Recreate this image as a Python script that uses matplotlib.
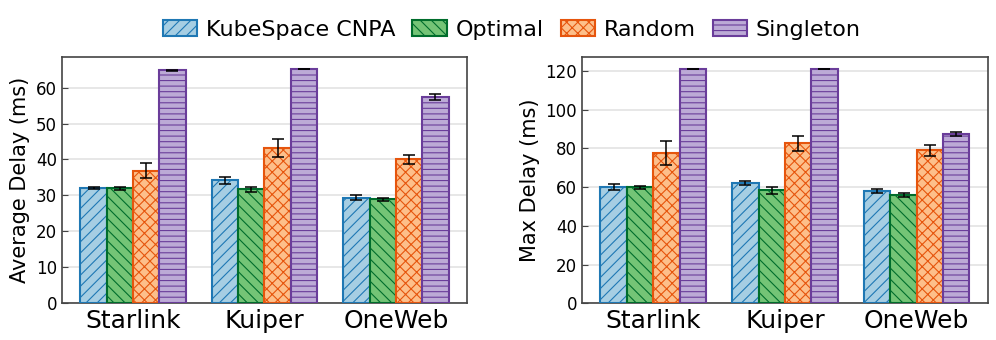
import numpy as np
import matplotlib.pyplot as plt
from matplotlib.patches import Patch

plt.rcParams['font.family'] = 'DejaVu Sans'
plt.rcParams['hatch.linewidth'] = 0.8

# constellations and methods
groups = ['Starlink', 'Kuiper', 'OneWeb']
methods = ['KubeSpace CNPA', 'Optimal', 'Random', 'Singleton']

# average delay (ms), one list per method
avg_cnpa = [32.1, 34.2, 29.4]
avg_opt = [32.0, 31.7, 28.9]
avg_rand = [36.9, 43.1, 40.1]
avg_single = [64.8, 65.2, 57.4]
avg_cnpa_err = [0.3, 0.9, 0.65]
avg_opt_err = [0.4, 0.65, 0.5]
avg_rand_err = [2.05, 2.5, 1.25]
avg_single_err = [0.1, 0.1, 0.9]

# max delay (ms)
max_cnpa = [60.2, 61.9, 57.8]
max_opt = [59.8, 58.3, 55.9]
max_rand = [77.7, 82.5, 78.9]
max_single = [121.0, 120.8, 87.3]
max_cnpa_err = [1.5, 0.95, 1.0]
max_opt_err = [0.85, 1.8, 1.0]
max_rand_err = [6.3, 4.0, 3.0]
max_single_err = [0.15, 0.15, 0.85]

faces = ['#a6cee3', '#74c476', '#fdbf8a', '#bcaad6']
edges = ['#1f78b4', '#006d2c', '#e6550d', '#6a3d9a']
hatches = ['///', '\\\\\\', 'xxx', '---']

fig = plt.figure(figsize=(9.96, 3.4), dpi=100)
ax1 = fig.add_axes([0.0622, 0.108, 0.4066, 0.725])
ax2 = fig.add_axes([0.5843, 0.108, 0.4076, 0.725])

x = np.arange(len(groups))
w = 0.2


def draw(ax, vals, errs, ylabel, yticks):
    for i, (v, e) in enumerate(zip(vals, errs)):
        ax.bar(x + (i - 1.5) * w, v, w, yerr=e, color=faces[i], edgecolor=edges[i],
               hatch=hatches[i], linewidth=1.5, zorder=3,
               error_kw=dict(ecolor='black', elinewidth=1.1, capsize=4, capthick=1.1, zorder=4))
    ax.set_ylabel(ylabel, fontsize=15)
    ax.set_xticks(x)
    ax.set_xticklabels(groups, fontsize=18)
    ax.set_yticks(yticks)
    ax.tick_params(axis='y', direction='in', labelsize=12, length=4, color='#444444')
    ax.tick_params(axis='x', length=0, pad=4)
    ax.grid(axis='y', color='#e3e3e3', linewidth=1.2, zorder=0)
    ax.set_axisbelow(True)
    for s in ax.spines.values():
        s.set_color('#444444')
        s.set_linewidth(1.2)


draw(ax1, [avg_cnpa, avg_opt, avg_rand, avg_single],
     [avg_cnpa_err, avg_opt_err, avg_rand_err, avg_single_err],
     'Average Delay (ms)', [0, 10, 20, 30, 40, 50, 60])
draw(ax2, [max_cnpa, max_opt, max_rand, max_single],
     [max_cnpa_err, max_opt_err, max_rand_err, max_single_err],
     'Max Delay (ms)', [0, 20, 40, 60, 80, 100, 120])

handles = [Patch(facecolor=faces[i], edgecolor=edges[i], hatch=hatches[i], linewidth=1.5,
                 label=methods[i]) for i in range(4)]
fig.legend(handles=handles, loc='upper center', bbox_to_anchor=(0.514, 1.0), ncol=4,
           frameon=False, fontsize=16, handlelength=1.55, handleheight=0.75,
           columnspacing=0.75, handletextpad=0.4)

fig.savefig('out.png', dpi=100)
